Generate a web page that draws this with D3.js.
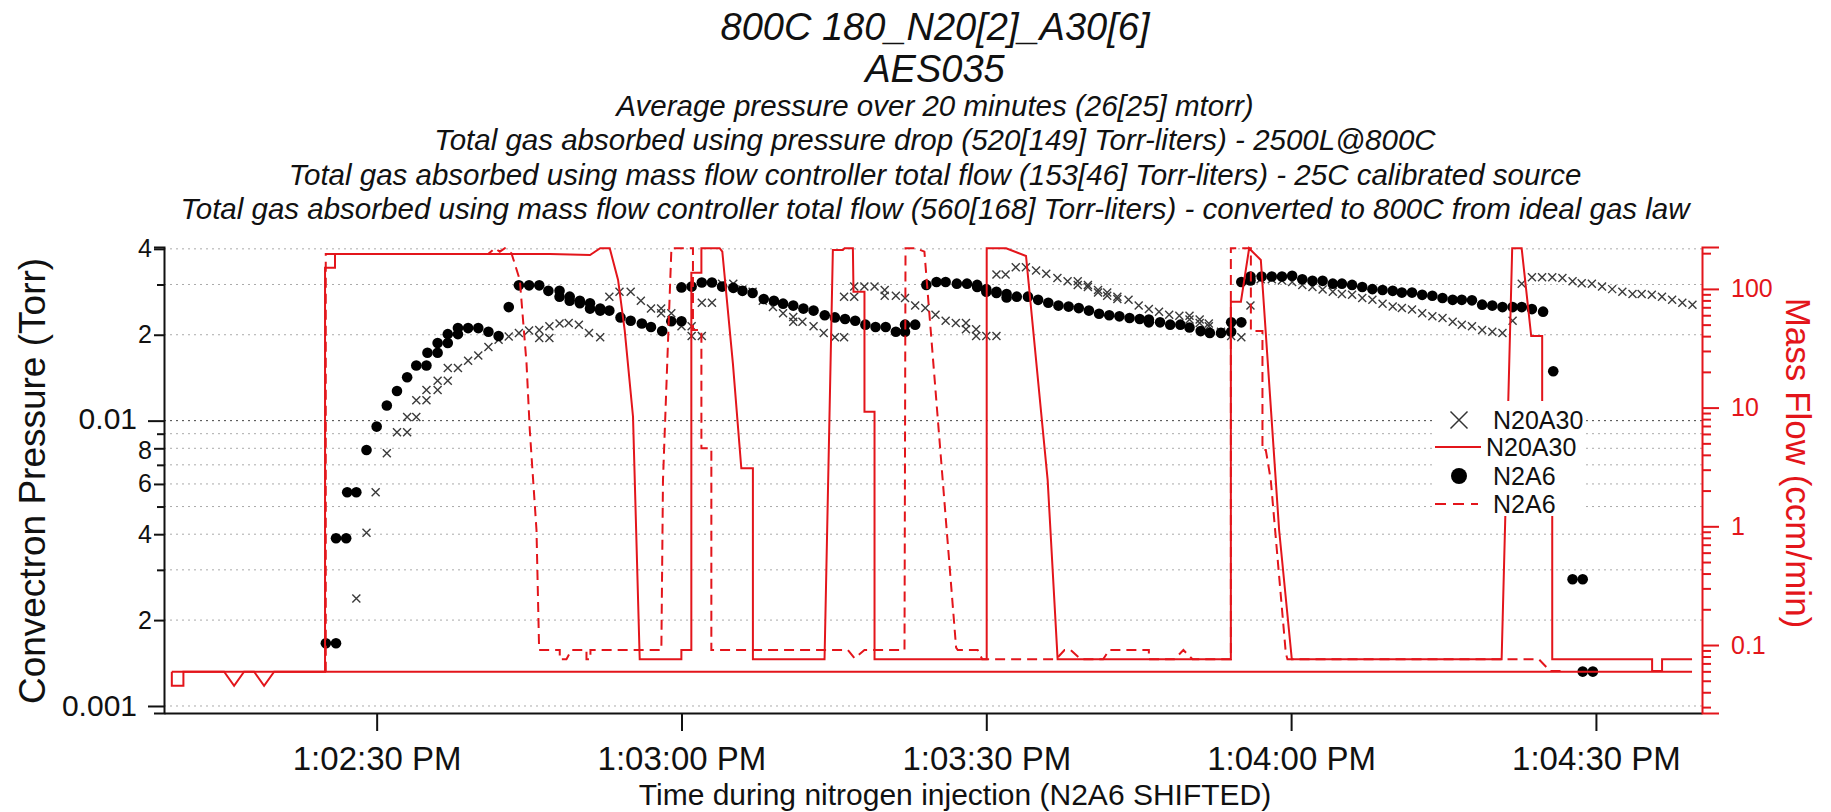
<!DOCTYPE html>
<html><head><meta charset="utf-8">
<script src="https://cdn.jsdelivr.net/npm/d3@7"></script>
<style>
body{margin:0;background:#fff;}
svg text{font-family:"Liberation Sans",Arial,sans-serif;}
</style></head><body>
<svg id="chart" width="1831" height="812"></svg>
<script>
// ---------- text ----------
const titleLines = ["800C 180_N20[2]_A30[6]", "AES035"];
const subtitleLines = [
  "Average pressure over 20 minutes (26[25] mtorr)",
  "Total gas absorbed using pressure drop (520[149] Torr-liters) - 2500L@800C",
  "Total gas absorbed using mass flow controller total flow (153[46] Torr-liters) - 25C calibrated source",
  "Total gas absorbed using mass flow controller total flow (560[168] Torr-liters) - converted to 800C from ideal gas law"
];
const xAxisTitle = "Time during nitrogen injection (N2A6 SHIFTED)";
const leftAxisTitle = "Convectron Pressure (Torr)";
const rightAxisTitle = "Mass Flow (ccm/min)";
const legendLabels = ["N20A30", "N20A30", "N2A6", "N2A6"];

// ---------- ticks ----------
const xTickSeconds = [30, 60, 90, 120, 150];           // seconds after 1:02:00 PM
const leftTickValues = [0.04, 0.03, 0.02, 0.01, 0.009, 0.008, 0.007, 0.006, 0.005, 0.004, 0.003, 0.002, 0.001];
const leftTickLabels = ["4", "", "2", "0.01", "", "8", "", "6", "", "4", "", "2", "0.001"];
const rightMajorTicks = [0.1, 1, 10, 100];
const rightMajorLabels = ["0.1", "1", "10", "100"];
const rightMinorTicks = [0.03,0.04,0.05,0.06,0.07,0.08,0.09,0.2,0.3,0.4,0.5,0.6,0.7,0.8,0.9,2,3,4,5,6,7,8,9,20,30,40,50,60,70,80,90,200];

// ---------- data: [seconds after 1:02:00 PM, value] ----------
// N2A6 convectron pressure (Torr) - filled circles
const n2a6Pressure = [
[25.0,0.00166],[26.0,0.00166],[26.0,0.00387],[27.0,0.00387],[27.1,0.00561],[28.0,0.00561],[29.0,0.00789],[30.0,0.00953],
[31.0,0.0113],[32.0,0.0127],[33.0,0.0142],[33.9,0.0156],[34.9,0.0156],[35.0,0.0173],[36.0,0.0173],[36.0,0.0187],[37.0,0.0187],
[37.0,0.0201],[38.0,0.0201],[38.0,0.0211],[39.0,0.0211],[40.0,0.0211],[41.0,0.0205],[42.0,0.0198],[43.0,0.0250],[44.0,0.0298],
[45.0,0.0298],[46.0,0.0298],[46.9,0.0285],[48.0,0.0285],[48.0,0.0272],[49.0,0.0272],[49.0,0.0263],[50.0,0.0263],[50.0,0.0258],
[51.0,0.0258],[51.0,0.0247],[52.0,0.0247],[52.0,0.0243],[52.9,0.0243],[54.0,0.0230],[55.0,0.0224],[56.1,0.0219],[57.0,0.0213],
[58.1,0.0206],[59.0,0.0223],[60.0,0.0223],[60.0,0.0293],[61.0,0.0295],[62.0,0.0305],[63.0,0.0305],[64.0,0.0295],[65.1,0.0292],
[66.0,0.0285],[67.0,0.0280],[68.1,0.0267],[69.1,0.0263],[70.0,0.0257],[71.0,0.0253],[72.0,0.0247],[73.0,0.0243],[74.1,0.0234],
[75.1,0.0230],[76.1,0.0227],[77.1,0.0224],[78.1,0.0217],[79.1,0.0213],[80.1,0.0213],[81.1,0.0205],[82.0,0.0217],[82.0,0.0205],
[83.0,0.0217],[84.1,0.0299],[85.1,0.0306],[86.0,0.0306],[87.1,0.0302],[88.1,0.0302],[89.1,0.0299],[89.1,0.0294],[90.0,0.0289],
[90.0,0.0283],[91.0,0.0283],[91.0,0.0280],[92.0,0.0278],[92.0,0.0270],[93.0,0.0272],[94.1,0.0272],[95.1,0.0265],[96.1,0.0259],
[97.1,0.0253],[98.1,0.0251],[99.1,0.0248],[100.1,0.0243],[101.1,0.0237],[102.1,0.0234],[103.1,0.0232],[104.1,0.0229],[105.1,0.0227],
[106.0,0.0226],[106.0,0.0221],[107.1,0.0221],[108.1,0.0217],[109.1,0.0217],[110.0,0.0212],[111.1,0.0206],[112.0,0.0203],[113.1,0.0203],
[114.1,0.0221],[114.1,0.0205],[115.1,0.0221],[115.1,0.0306],[116.0,0.0320],[116.0,0.0310],[117.1,0.0320],[118.1,0.0320],[119.1,0.0320],
[120.1,0.0322],[121.1,0.0313],[122.1,0.0309],[123.1,0.0309],[124.1,0.0302],[125.0,0.0302],[126.0,0.0299],[127.0,0.0294],[128.0,0.0289],
[129.0,0.0287],[130.0,0.0285],[130.9,0.0281],[131.9,0.0281],[132.9,0.0276],[133.9,0.0274],[134.9,0.0269],[135.9,0.0265],[136.8,0.0265],
[137.8,0.0264],[138.8,0.0255],[139.8,0.0253],[140.8,0.0250],[141.8,0.0250],[142.7,0.0250],[143.7,0.0246],[144.8,0.0241],[145.8,0.0149],
[147.7,0.00278],[148.7,0.00278],[148.7,0.00132],[149.7,0.00132]
];
// N20A30 convectron pressure (Torr) - crosses
const n20a30Pressure = [
[28.0,0.00238],[29.0,0.00405],[29.9,0.00561],[31.0,0.00768],[32.0,0.00911],[33.0,0.00911],[33.0,0.0103],[33.9,0.0103],[33.9,0.0118],
[34.9,0.0118],[34.9,0.0128],[36.0,0.0128],[36.0,0.0138],[37.0,0.0138],[37.0,0.0153],[38.0,0.0153],[39.0,0.0162],[40.0,0.0169],
[41.0,0.0181],[42.0,0.0192],[43.0,0.0197],[44.0,0.0203],[45.0,0.0207],[46.0,0.0208],[46.0,0.0195],[47.0,0.0214],[47.0,0.0195],
[48.0,0.0219],[48.9,0.0220],[49.9,0.0217],[50.9,0.0203],[52.0,0.0196],[52.9,0.0272],[53.9,0.0283],[55.0,0.0283],[56.0,0.0263],
[57.0,0.0247],[58.0,0.0247],[58.0,0.0238],[59.0,0.0238],[60.0,0.0214],[61.0,0.0214],[61.0,0.0198],[62.0,0.0198],[62.0,0.0259],
[63.0,0.0259],[64.0,0.0302],[65.1,0.0302],[66.0,0.0288],[67.0,0.0283],[68.0,0.0263],[69.0,0.0250],[70.0,0.0238],[71.0,0.0231],
[71.0,0.0222],[71.9,0.0222],[73.0,0.0214],[74.0,0.0203],[75.1,0.0196],[76.0,0.0196],[76.0,0.0272],[77.0,0.0272],[77.0,0.0295],
[78.0,0.0295],[79.0,0.0295],[80.0,0.0287],[80.0,0.0274],[81.1,0.0274],[82.0,0.0269],[83.0,0.0253],[84.0,0.0248],[85.0,0.0235],
[86.0,0.0224],[87.0,0.0220],[88.0,0.0220],[88.0,0.0209],[89.0,0.0209],[89.0,0.0198],[90.0,0.0198],[91.0,0.0198],[91.0,0.0325],
[91.9,0.0325],[92.9,0.0345],[93.9,0.0345],[94.9,0.0336],[95.9,0.0327],[97.0,0.0316],[98.0,0.0308],[99.0,0.0308],[99.0,0.0299],
[100.0,0.0299],[100.0,0.0294],[101.0,0.0287],[101.0,0.0281],[101.9,0.0281],[101.9,0.0274],[102.9,0.0272],[102.9,0.0267],[104.0,0.0265],
[105.0,0.0253],[106.0,0.0246],[107.0,0.0241],[108.0,0.0235],[109.0,0.0233],[110.0,0.0233],[110.0,0.0226],[111.0,0.0226],[111.0,0.0220],
[111.9,0.0219],[111.9,0.0214],[113.1,0.0205],[114.1,0.0198],[115.1,0.0196],[116.0,0.0253],[116.0,0.0310],[117.0,0.0313],[118.1,0.0313],
[119.1,0.0310],[120.1,0.0306],[121.1,0.0299],[122.1,0.0294],[123.1,0.0288],[124.1,0.0283],[125.0,0.0278],[126.0,0.0276],[127.0,0.0269],
[128.0,0.0265],[129.0,0.0257],[130.0,0.0251],[130.9,0.0248],[131.9,0.0245],[132.9,0.0238],[133.9,0.0232],[134.9,0.0229],[135.9,0.0222],
[136.8,0.0217],[137.8,0.0214],[138.8,0.0208],[139.8,0.0205],[140.8,0.0203],[141.8,0.0224],[142.7,0.0302],[143.7,0.0318],[144.7,0.0318],
[145.7,0.0318],[146.7,0.0316],[147.7,0.0308],[148.6,0.0303],[149.6,0.0302],[150.6,0.0295],[151.6,0.0289],[152.6,0.0283],[153.6,0.0278],
[154.5,0.0278],[155.5,0.0276],[156.5,0.0272],[157.5,0.0265],[158.5,0.0259],[159.5,0.0255]
];
// N20A30 mass flow (ccm/min) - solid red
const n20a30Flow = [
[9.84,0.0596],[24.92,0.0596],[24.92,150.9],[25.90,150.9],[25.90,196.8],[47.04,196.8],[51.0,193],[52.0,220],[52.94,220],
[53.76,118.9],[54.41,45.0],[55.23,8.38],[55.89,0.0758],[59.99,0.0758],[59.99,0.0908],[60.97,0.0908],[60.97,136.9],[61.96,136.9],
[61.96,220],[63.76,220],[64.02,205.8],[65.06,23.6],[65.89,3.08],[67.03,3.08],[67.03,0.0758],[74.08,0.0758],[74.90,212.7],
[75.88,212.7],[76.05,220],[76.87,220],[76.93,94.7],[78.01,94.7],[78.01,9.24],[79.0,9.24],[79.0,0.0758],[90.04,0.0758],
[90.04,220],[91.95,220],[93.91,189.3],[96.04,2.45],[97.02,0.0758],[114.07,0.0758],[114.07,78.0],[115.06,78.0],[115.87,220],
[116.2,205.8],[117.02,175.2],[118.82,0.931],[120.07,0.0758],[140.72,0.0758],[141.76,220],[142.69,220],[143.63,40.1],[144.71,40.1],
[144.71,3],[145.70,3],[145.70,0.0758],[155.53,0.0758],[155.53,0.0604],[156.51,0.0604],[156.51,0.0758],[159.46,0.0758]
];
// N2A6 mass flow (ccm/min) - dashed red
const n2a6Flow = [
[24.99,0.0596],[24.99,196.8],[40.97,196.8],[41.63,220],[42.12,205.8],[42.62,220],[43.27,199.5],[44.09,118.9],[44.75,23.6],
[45.07,6.48],[45.73,0.931],[45.99,0.0908],[48.02,0.0908],[48.02,0.0758],[48.68,0.0758],[49.17,0.0908],[50.65,0.0908],[50.65,0.0758],
[51.04,0.0758],[51.04,0.0908],[58.02,0.0908],[58.18,2.45],[59.01,220],[61.13,220],[61.13,45.0],[61.96,45.0],[61.96,4.54],[62.94,4.54],
[62.94,0.0908],[76.37,0.0908],[77.03,0.0773],[78.01,0.0908],[81.95,0.0908],[82.05,220],[83.10,220],[83.91,205.8],[86.05,1.06],
[87.03,0.095],[87.19,0.0908],[89.15,0.0908],[89.6,0.0758],[96.86,0.0758],[97.7,0.0908],[98.3,0.0908],[99.3,0.0758],[101.5,0.0758],
[102.1,0.0908],[106.0,0.0908],[106.0,0.0758],[108.5,0.0758],[109.4,0.0908],[110.3,0.0758],[114.07,0.0758],[114.07,220],[116.04,220],
[116.04,44.2],[117.18,44.2],[117.18,4.39],[117.51,4.39],[118.0,2.45],[119.48,0.0851],[119.64,0.0758],[144.39,0.0758],[145.5,0.0604],
[147.0,0.0604]
];
// base mass flow trace (solid red, not in legend)
const baseFlow = [
[9.84,0.0596],[9.84,0.0454],[10.98,0.0454],[10.98,0.0596],[14.99,0.0596],[15.97,0.0454],[16.95,0.0596],[17.94,0.0596],
[18.92,0.0454],[19.91,0.0596],[159.46,0.0596]
];

// ---------- setup ----------
const RED = "#e3151b";
const svg = d3.select("#chart");
const L = 164, R = 1702, T = 247, B = 713;
const t0 = new Date(2000, 0, 1, 13, 2, 0).getTime();
const toDate = s => new Date(t0 + s * 1000);

const x = d3.scaleTime().domain([toDate(9.07), toDate(160.44)]).range([L, R]);
const yL = d3.scaleLog().domain([0.000945, 0.0406]).range([B, T]);
const yR = d3.scaleLog().domain([0.02675, 225.4]).range([B, T]);

svg.append("defs").append("clipPath").attr("id", "clip")
  .append("rect").attr("x", L).attr("y", T - 2).attr("width", R - L).attr("height", B - T + 2);

// titles
const tg = svg.append("g").attr("font-style", "italic").attr("text-anchor", "middle").attr("fill", "#111");
tg.selectAll(".t1").data(titleLines).join("text")
  .attr("x", 935).attr("y", (d, i) => 40 + i * 42).attr("font-size", 38).text(d => d);
tg.selectAll(".t2").data(subtitleLines).join("text")
  .attr("x", 935).attr("y", (d, i) => 116 + i * 34.3).attr("font-size", 29.5).text(d => d);

// gridlines
svg.append("g").selectAll("line").data(leftTickValues).join("line")
  .attr("x1", L).attr("x2", R).attr("y1", d => yL(d)).attr("y2", d => yL(d))
  .attr("stroke", d => d === 0.01 ? "#444" : "#aaa").attr("stroke-width", 1)
  .attr("stroke-dasharray", "2,4");

const plot = svg.append("g").attr("clip-path", "url(#clip)");

// markers
plot.append("g").selectAll("path").data(n20a30Pressure).join("path")
  .attr("transform", d => `translate(${x(toDate(d[0]))},${yL(d[1])})`)
  .attr("d", "M-4,-4L4,4M-4,4L4,-4").attr("stroke", "#3a3a3a").attr("stroke-width", 1.4).attr("fill", "none");
plot.append("g").selectAll("circle").data(n2a6Pressure).join("circle")
  .attr("cx", d => x(toDate(d[0]))).attr("cy", d => yL(d[1])).attr("r", 5.3).attr("fill", "#000");

// flow lines
const line = d3.line().x(d => x(toDate(d[0]))).y(d => yR(d[1]));
plot.append("path").datum(baseFlow).attr("d", line).attr("fill", "none").attr("stroke", RED).attr("stroke-width", 2);
plot.append("path").datum(n20a30Flow).attr("d", line).attr("fill", "none").attr("stroke", RED).attr("stroke-width", 2);
plot.append("path").datum(n2a6Flow).attr("d", line).attr("fill", "none").attr("stroke", RED).attr("stroke-width", 2)
  .attr("stroke-dasharray", "10,6");

// x axis
const xAxis = d3.axisBottom(x).tickValues(xTickSeconds.map(toDate))
  .tickFormat(d3.timeFormat("%-I:%M:%S %p")).tickSize(18).tickSizeOuter(0).tickPadding(16);
const gx = svg.append("g").attr("transform", `translate(0,${B})`).call(xAxis);
gx.select(".domain").attr("stroke", "#111").attr("stroke-width", 2);
gx.selectAll(".tick line").attr("stroke", "#111").attr("stroke-width", 2);
gx.selectAll(".tick text").attr("font-size", 33).attr("fill", "#111").attr("font-family", "Liberation Sans, Arial, sans-serif").attr("dy", "0.71em");

// left axis
const isDecade = v => (v === 0.01 || v === 0.001);
const tickLen = v => isDecade(v) ? 16 : (leftTickLabels[leftTickValues.indexOf(v)] ? 10 : 7);
const labelShift = v => v === 0.01 ? -2 : (v === 0.008 ? 2 : 0);
const yAxisL = d3.axisLeft(yL).tickValues(leftTickValues)
  .tickFormat((d, i) => leftTickLabels[i]).tickSizeOuter(0).tickSize(10);
const gl = svg.append("g").attr("transform", `translate(${L},0)`).call(yAxisL);
gl.select(".domain").attr("stroke", "#111").attr("stroke-width", 2);
gl.selectAll(".tick line").attr("stroke", "#111").attr("stroke-width", 2).attr("x2", d => -tickLen(d));
gl.selectAll(".tick text").attr("font-size", d => isDecade(d) ? 30 : 25).attr("fill", "#111")
  .attr("x", d => isDecade(d) ? -27 : -12).attr("y", d => labelShift(d))
  .attr("font-family", "Liberation Sans, Arial, sans-serif");

// right axis
const rightTicks = rightMajorTicks.concat(rightMinorTicks);
const yAxisR = d3.axisRight(yR).tickValues(rightTicks)
  .tickFormat(d => { const i = rightMajorTicks.indexOf(d); return i >= 0 ? rightMajorLabels[i] : ""; })
  .tickSizeOuter(0).tickSize(17).tickPadding(12);
const gr = svg.append("g").attr("transform", `translate(${R},0)`).call(yAxisR);
gr.select(".domain").attr("stroke", RED).attr("stroke-width", 2);
gr.selectAll(".tick line").attr("stroke", RED).attr("stroke-width", 2)
  .attr("x2", d => rightMajorTicks.includes(d) ? 17 : 9);
gr.selectAll(".tick text").attr("font-size", 25).attr("fill", RED).attr("font-family", "Liberation Sans, Arial, sans-serif");

// axis titles
svg.append("text").attr("transform", "translate(45,481) rotate(-90)").attr("text-anchor", "middle")
  .attr("font-size", 37).attr("fill", "#111").text(leftAxisTitle);
svg.append("text").attr("transform", "translate(1786,463) rotate(90)").attr("text-anchor", "middle")
  .attr("font-size", 35).attr("fill", RED).text(rightAxisTitle);
svg.append("text").attr("x", 955).attr("y", 804.5).attr("text-anchor", "middle")
  .attr("font-size", 30).attr("fill", "#111").text(xAxisTitle);

// legend
const lg = svg.append("g");
lg.append("rect").attr("x", 1432).attr("y", 401).attr("width", 150).attr("height", 115).attr("fill", "#fff");
const rows = [420, 447, 476, 504];
lg.append("path").attr("transform", `translate(1459,${rows[0]})`).attr("d", "M-8.5,-8.5L8.5,8.5M-8.5,8.5L8.5,-8.5")
  .attr("stroke", "#333").attr("stroke-width", 1.5).attr("fill", "none");
lg.append("line").attr("x1", 1435).attr("x2", 1481).attr("y1", rows[1]).attr("y2", rows[1]).attr("stroke", RED).attr("stroke-width", 2);
lg.append("circle").attr("cx", 1459).attr("cy", rows[2]).attr("r", 8).attr("fill", "#000");
lg.append("line").attr("x1", 1435).attr("x2", 1478).attr("y1", rows[3]).attr("y2", rows[3]).attr("stroke", RED).attr("stroke-width", 2)
  .attr("stroke-dasharray", "11,7");
const lx = [1493, 1486, 1493, 1493];
lg.selectAll("text").data(legendLabels).join("text")
  .attr("x", (d, i) => lx[i]).attr("y", (d, i) => rows[i]).attr("dy", "0.36em")
  .attr("font-size", 25).attr("fill", "#111").text(d => d);
</script>
</body></html>
